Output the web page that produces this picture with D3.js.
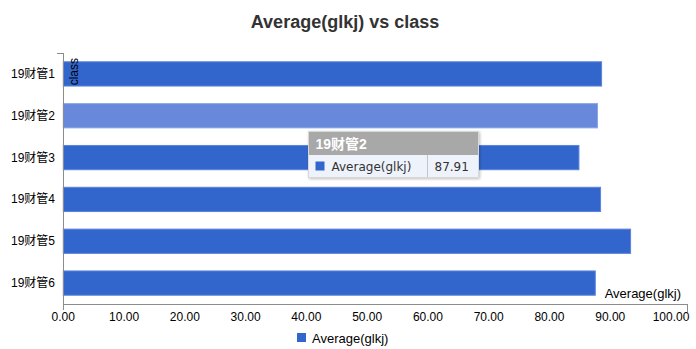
<!DOCTYPE html>
<html><head><meta charset="utf-8">
<script src="https://cdn.jsdelivr.net/npm/d3@7/dist/d3.min.js"></script>
<style>
html,body{margin:0;padding:0;background:#fff;}
svg{display:block;}
</style></head>
<body><svg id="c" width="696" height="349"></svg>
<script>
const categories = ["19财管1","19财管2","19财管3","19财管4","19财管5","19财管6"];
const values = [88.58, 87.91, 84.85, 88.41, 93.35, 87.54];
const xTicks = [0,10,20,30,40,50,60,70,80,90,100];
const seriesName = "Average(glkj)";
const chartTitle = "Average(glkj) vs class";
const yTitle = "class";
const hoverIndex = 1;

(function(){
const svg = d3.select("#c");
const FONT = "'Liberation Sans','Noto Sans CJK SC',Arial,sans-serif";
const pL = 63, pR = 687, pT = 53, pB = 304;

const x = d3.scaleLinear().domain([0,100]).range([63.3, 671]);
const y = d3.scaleBand().domain(categories).range([pT, pB]).paddingInner(0.42).paddingOuter(0.21);

const defs = svg.append("defs");
const f = defs.append("filter").attr("id","sh").attr("x","-10%").attr("y","-20%").attr("width","120%").attr("height","150%");
f.append("feDropShadow").attr("dx",1).attr("dy",1).attr("stdDeviation",1.5).attr("flood-color","#000").attr("flood-opacity",0.25);

svg.append("text").attr("x",345).attr("y",28).attr("text-anchor","middle")
  .attr("font-family",FONT).attr("font-weight","bold").attr("font-size",18).attr("fill","#333")
  .text(chartTitle);

svg.append("g").selectAll("rect").data(values).join("rect")
  .attr("x", x(0))
  .attr("y", (d,i)=>y(categories[i]))
  .attr("width", d=>x(d)-x(0))
  .attr("height", y.bandwidth())
  .attr("fill", (d,i)=> i===hoverIndex ? "#6889db" : "#3366cc")
  .attr("stroke", (d,i)=> i===hoverIndex ? "#8aa5e6" : "#5a84dc")
  .attr("stroke-width", 1);

const ax = svg.append("g").attr("stroke","#8c8c8c").attr("stroke-width",1).attr("fill","none").attr("shape-rendering","crispEdges");
ax.append("line").attr("x1",pL+0.5).attr("x2",pL+0.5).attr("y1",pT).attr("y2",pB+6);
ax.append("line").attr("x1",pL-6).attr("x2",pL).attr("y1",pT+0.5).attr("y2",pT+0.5);
ax.append("line").attr("x1",pL).attr("x2",pR+0.5).attr("y1",pB+0.5).attr("y2",pB+0.5);
ax.append("line").attr("x1",pR+0.5).attr("x2",pR+0.5).attr("y1",pB).attr("y2",pB+8);

svg.append("g").selectAll("text").data(categories).join("text")
  .attr("x", 55).attr("y", d=>y(d)+y.bandwidth()/2+4)
  .attr("text-anchor","end").attr("font-family",FONT).attr("font-size",12).attr("fill","#000")
  .text(d=>d);

svg.append("g").selectAll("text").data(xTicks).join("text")
  .attr("x", d=>x(d)).attr("y", 321)
  .attr("text-anchor","middle").attr("font-family",FONT).attr("font-size",12).attr("fill","#000")
  .text(d=>d.toFixed(2));

svg.append("text").attr("transform","translate(78,58) rotate(-90)").attr("text-anchor","end")
  .attr("font-family",FONT).attr("font-size",12).attr("fill","#000").text(yTitle);
svg.append("text").attr("x",681).attr("y",298).attr("text-anchor","end")
  .attr("font-family",FONT).attr("font-size",13).attr("fill","#000").text(seriesName);

svg.append("rect").attr("x",297).attr("y",333).attr("width",9).attr("height",9).attr("fill","#3366cc");
svg.append("text").attr("x",312).attr("y",343).attr("font-family",FONT).attr("font-size",13).attr("fill","#000").text(seriesName);

const tt = svg.append("g").attr("transform","translate(308.5,131.5)");
tt.append("rect").attr("width",170).attr("height",46).attr("fill","#eef2fb").attr("stroke","#d8d8d8").attr("filter","url(#sh)");
tt.append("rect").attr("x",0.5).attr("y",0.5).attr("width",169).attr("height",23).attr("fill","#a8a8a8");
tt.append("text").attr("x",7).attr("y",17).attr("font-family",FONT).attr("font-weight","bold").attr("font-size",14).attr("fill","#fff").text(categories[hoverIndex]);
tt.append("rect").attr("x",7).attr("y",30).attr("width",9).attr("height",9).attr("fill","#3366cc");
tt.append("text").attr("x",23).attr("y",39.5).attr("font-family","'DejaVu Sans',sans-serif").attr("font-size",12).attr("fill","#333").text(seriesName);
tt.append("line").attr("x1",119).attr("x2",119).attr("y1",24).attr("y2",46).attr("stroke","#999").attr("stroke-dasharray","1,1");
tt.append("text").attr("x",126).attr("y",39.5).attr("font-family","'DejaVu Sans',sans-serif").attr("font-size",12).attr("fill","#333").text(values[hoverIndex].toFixed(2));
})();
</script></body></html>
